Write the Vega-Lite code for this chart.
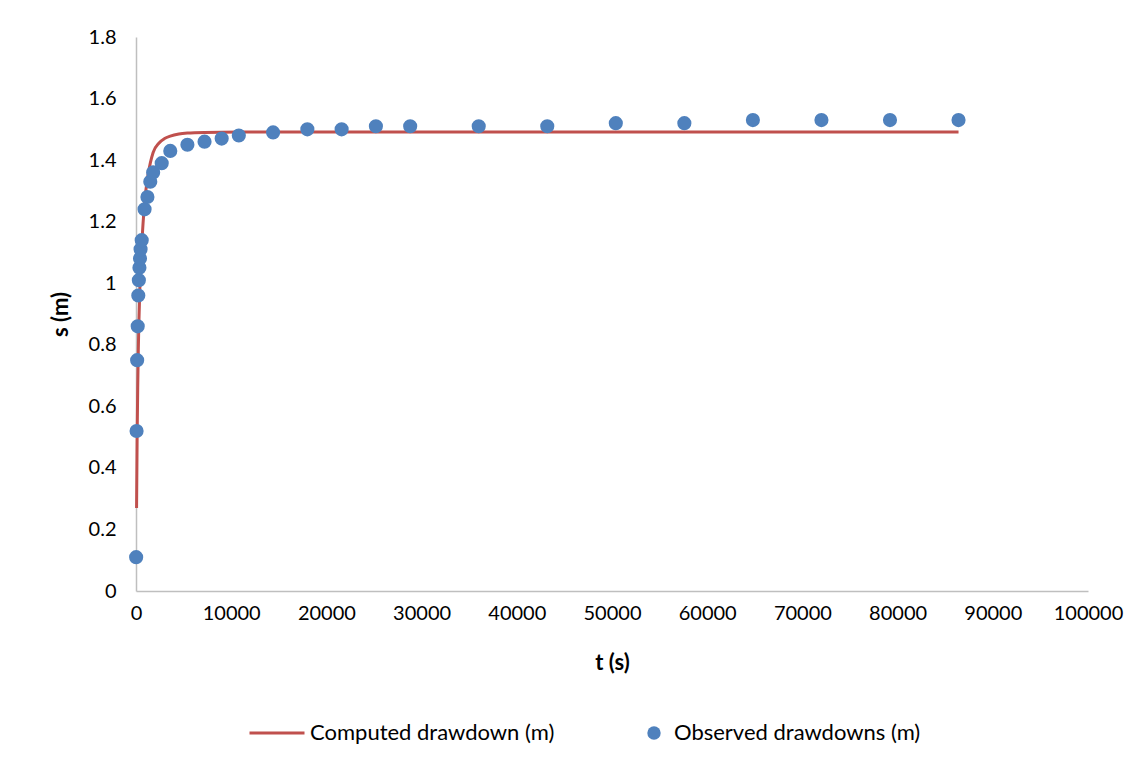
{
  "$schema": "https://vega.github.io/schema/vega-lite/v6.json",
  "width": 952,
  "height": 554,
  "autosize": {"type": "none"},
  "padding": {"left": 136, "top": 37, "right": 57, "bottom": 177},
  "background": "white",
  "config": {
    "view": {"stroke": null},
    "font": "Lato",
    "axis": {
      "grid": false,
      "ticks": false,
      "domainColor": "#BFBFBF",
      "domainWidth": 1.5,
      "labelColor": "#000000",
      "labelFontSize": 20,
      "labelFlush": false,
      "labelOverlap": false,
      "titleColor": "#000000",
      "titleFontSize": 22,
      "titleFontWeight": "bold"
    },
    "legend": {
      "labelColor": "#000000",
      "labelFontSize": 22,
      "labelLimit": 400,
      "title": null
    }
  },
  "datasets": {
    "computed": [
      {"t": 60, "s": 0.27, "series": "Computed drawdown (m)"},
      {"t": 120, "s": 0.5, "series": "Computed drawdown (m)"},
      {"t": 180, "s": 0.66, "series": "Computed drawdown (m)"},
      {"t": 240, "s": 0.78, "series": "Computed drawdown (m)"},
      {"t": 300, "s": 0.87, "series": "Computed drawdown (m)"},
      {"t": 420, "s": 1.0, "series": "Computed drawdown (m)"},
      {"t": 600, "s": 1.12, "series": "Computed drawdown (m)"},
      {"t": 900, "s": 1.26, "series": "Computed drawdown (m)"},
      {"t": 1200, "s": 1.34, "series": "Computed drawdown (m)"},
      {"t": 1500, "s": 1.39, "series": "Computed drawdown (m)"},
      {"t": 1800, "s": 1.425, "series": "Computed drawdown (m)"},
      {"t": 2400, "s": 1.455, "series": "Computed drawdown (m)"},
      {"t": 3000, "s": 1.47, "series": "Computed drawdown (m)"},
      {"t": 3600, "s": 1.478, "series": "Computed drawdown (m)"},
      {"t": 4500, "s": 1.485, "series": "Computed drawdown (m)"},
      {"t": 5400, "s": 1.488, "series": "Computed drawdown (m)"},
      {"t": 7200, "s": 1.49, "series": "Computed drawdown (m)"},
      {"t": 10800, "s": 1.491, "series": "Computed drawdown (m)"},
      {"t": 86400, "s": 1.491, "series": "Computed drawdown (m)"}
    ],
    "observed": [
      {"t": 15, "s": 0.11, "series": "Observed drawdowns (m)"},
      {"t": 60, "s": 0.52, "series": "Observed drawdowns (m)"},
      {"t": 120, "s": 0.75, "series": "Observed drawdowns (m)"},
      {"t": 180, "s": 0.86, "series": "Observed drawdowns (m)"},
      {"t": 240, "s": 0.96, "series": "Observed drawdowns (m)"},
      {"t": 300, "s": 1.01, "series": "Observed drawdowns (m)"},
      {"t": 360, "s": 1.05, "series": "Observed drawdowns (m)"},
      {"t": 420, "s": 1.08, "series": "Observed drawdowns (m)"},
      {"t": 480, "s": 1.11, "series": "Observed drawdowns (m)"},
      {"t": 600, "s": 1.14, "series": "Observed drawdowns (m)"},
      {"t": 900, "s": 1.24, "series": "Observed drawdowns (m)"},
      {"t": 1200, "s": 1.28, "series": "Observed drawdowns (m)"},
      {"t": 1500, "s": 1.33, "series": "Observed drawdowns (m)"},
      {"t": 1800, "s": 1.36, "series": "Observed drawdowns (m)"},
      {"t": 2700, "s": 1.39, "series": "Observed drawdowns (m)"},
      {"t": 3600, "s": 1.43, "series": "Observed drawdowns (m)"},
      {"t": 5400, "s": 1.45, "series": "Observed drawdowns (m)"},
      {"t": 7200, "s": 1.46, "series": "Observed drawdowns (m)"},
      {"t": 9000, "s": 1.47, "series": "Observed drawdowns (m)"},
      {"t": 10800, "s": 1.48, "series": "Observed drawdowns (m)"},
      {"t": 14400, "s": 1.49, "series": "Observed drawdowns (m)"},
      {"t": 18000, "s": 1.5, "series": "Observed drawdowns (m)"},
      {"t": 21600, "s": 1.5, "series": "Observed drawdowns (m)"},
      {"t": 25200, "s": 1.51, "series": "Observed drawdowns (m)"},
      {"t": 28800, "s": 1.51, "series": "Observed drawdowns (m)"},
      {"t": 36000, "s": 1.51, "series": "Observed drawdowns (m)"},
      {"t": 43200, "s": 1.51, "series": "Observed drawdowns (m)"},
      {"t": 50400, "s": 1.52, "series": "Observed drawdowns (m)"},
      {"t": 57600, "s": 1.52, "series": "Observed drawdowns (m)"},
      {"t": 64800, "s": 1.53, "series": "Observed drawdowns (m)"},
      {"t": 72000, "s": 1.53, "series": "Observed drawdowns (m)"},
      {"t": 79200, "s": 1.53, "series": "Observed drawdowns (m)"},
      {"t": 86400, "s": 1.53, "series": "Observed drawdowns (m)"}
    ]
  },
  "encoding": {
    "x": {
      "field": "t",
      "type": "quantitative",
      "scale": {"domain": [0, 100000], "nice": false},
      "axis": {
        "title": "t (s)",
        "values": [0, 10000, 20000, 30000, 40000, 50000, 60000, 70000, 80000, 90000, 100000],
        "format": "d",
        "labelPadding": 12,
        "titlePadding": 29
      }
    },
    "y": {
      "field": "s",
      "type": "quantitative",
      "scale": {"domain": [0, 1.8], "nice": false},
      "axis": {
        "title": "s (m)",
        "values": [0, 0.2, 0.4, 0.6, 0.8, 1, 1.2, 1.4, 1.6, 1.8],
        "format": "~g",
        "labelPadding": 20,
        "titlePadding": 16
      }
    }
  },
  "layer": [
    {
      "data": {"name": "computed"},
      "mark": {"type": "line", "strokeWidth": 3, "interpolate": "monotone"},
      "encoding": {
        "color": {
          "field": "series",
          "type": "nominal",
          "scale": {"range": ["#C0504D"]},
          "legend": {
            "orient": "none",
            "legendX": 112,
            "legendY": 667,
            "symbolType": "stroke",
            "symbolSize": 3025,
            "symbolStrokeWidth": 3,
            "labelOffset": 4
          }
        }
      }
    },
    {
      "data": {"name": "observed"},
      "mark": {"type": "circle", "size": 200, "opacity": 1},
      "encoding": {
        "color": {
          "field": "series",
          "type": "nominal",
          "scale": {"range": ["#4F81BD"]},
          "legend": {
            "orient": "none",
            "legendX": 507,
            "legendY": 685,
            "symbolType": "circle",
            "symbolSize": 180,
            "symbolOpacity": 1,
            "labelOffset": 9
          }
        }
      }
    }
  ],
  "resolve": {"scale": {"color": "independent"}}
}
